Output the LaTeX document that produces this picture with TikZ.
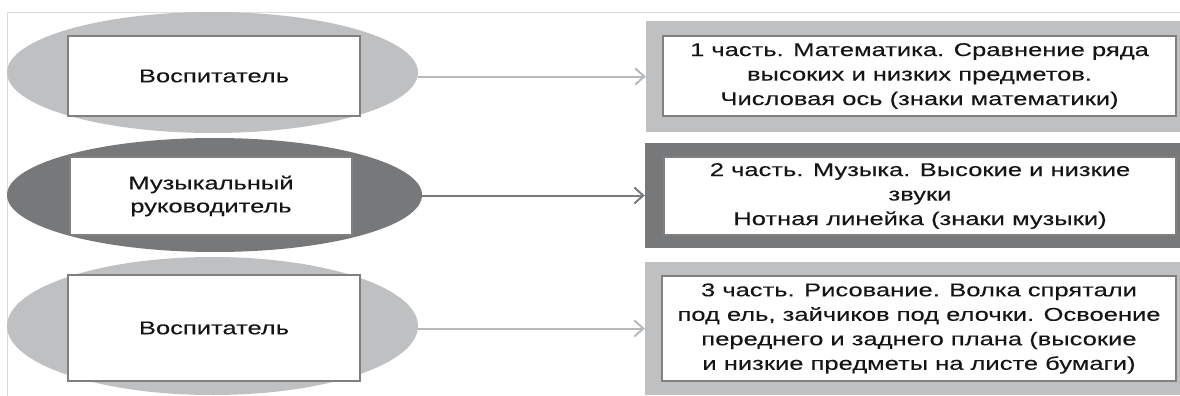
\documentclass[tikz,border=0pt]{standalone}
\usepackage{fontspec}
\setmainfont[FakeStretch=1.38,FakeBold=0.15]{Liberation Sans}
\usetikzlibrary{shapes.geometric,arrows.meta}
\definecolor{lightfill}{HTML}{BEC0C2}
\definecolor{darkfill}{HTML}{77787A}
\definecolor{boxline}{HTML}{808080}
\definecolor{edgeline}{HTML}{DCDCDC}
\definecolor{ink}{HTML}{151515}
\definecolor{arrowlight}{HTML}{B8B9BB}
\definecolor{arrowdark}{HTML}{7A7B7D}

\begin{document}
\begin{tikzpicture}[x=1pt,y=-1pt,
  role/.style={ellipse, draw=none, inner sep=0pt},
  rolebox/.style={rectangle, draw=boxline, line width=2pt, fill=white, text=ink,
    align=center, inner sep=0pt, font=\fontsize{18.5}{23}\selectfont},
  frame/.style={rectangle, draw=none, inner sep=0pt},
  textbox/.style={rectangle, draw=boxline, line width=1.5pt, fill=white, text=ink,
    align=center, inner sep=0pt, font=\fontsize{18.5}{24.5}\selectfont},
  link/.style={line width=2pt, -{Straight Barb[length=9pt,width=16pt,line width=2pt]}}
]
\useasboundingbox (0,0) rectangle (1180,396);
\fill[white] (0,0) rectangle (1180,396);

% thin page edges
\draw[edgeline, line width=1pt] (7,396) -- (7,13) -- (1180,13);

% roles on the left
\node[role, fill=lightfill, minimum width=411pt, minimum height=121pt] (e1) at (212.5,72.5) {};
\node[role, fill=darkfill,  minimum width=415pt, minimum height=114pt] (e2) at (214.5,195) {};
\node[role, fill=lightfill, minimum width=411pt, minimum height=138pt] (e3) at (212.5,326) {};

\node[rolebox, minimum width=292pt, minimum height=80pt]  (r1) at (214,76)  {Воспитатель};
\node[rolebox, minimum width=282pt, minimum height=78pt]  (r2) at (211,196) {Музыкальный\\руководитель};
\node[rolebox, minimum width=292pt, minimum height=106pt] (r3) at (214,328) {Воспитатель};

% lesson parts on the right
\node[frame, fill=lightfill, minimum width=534pt, minimum height=111pt] (f1) at (913,76.5)   {};
\node[frame, fill=darkfill,  minimum width=535pt, minimum height=105pt] (f2) at (912.5,195.5) {};
\node[frame, fill=lightfill, minimum width=535pt, minimum height=133pt] (f3) at (912.5,328.5) {};

\node[textbox, minimum width=513pt, minimum height=80pt]  (t1) at (919.5,76) {1 часть. Математика. Сравнение ряда\\высоких и низких предметов.\\Числовая ось (знаки математики)};
\node[textbox, minimum width=512pt, minimum height=78pt]  (t2) at (920,196) {2 часть. Музыка. Высокие и низкие\\звуки\\Нотная линейка (знаки музыки)};
\node[textbox, minimum width=514pt, minimum height=105pt] (t3) at (919,328.5) {3 часть. Рисование. Волка спрятали\\под ель, зайчиков под елочки. Освоение\\переднего и заднего плана (высокие\\и низкие предметы на листе бумаги)};

% connectors
\draw[link, draw=arrowlight] (e1.east |- f1.west) -- (f1.west);
\draw[link, draw=arrowdark]  (e2.east |- f2.west) -- (f2.west);
\draw[link, draw=arrowlight] (e3.east |- f3.west) -- (f3.west);
\end{tikzpicture}
\end{document}
